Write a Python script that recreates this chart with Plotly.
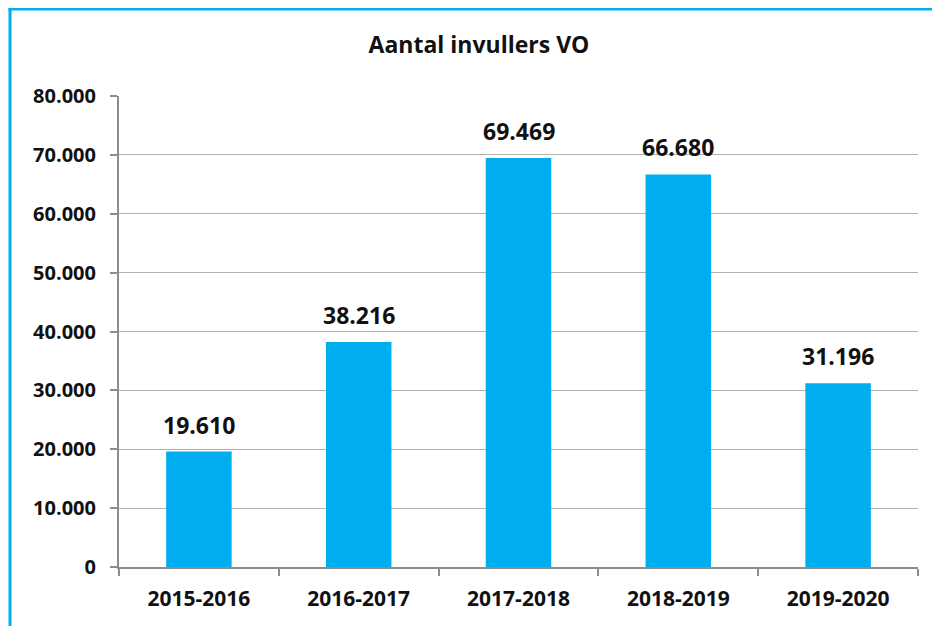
import plotly.graph_objects as go

categories = ["2015-2016", "2016-2017", "2017-2018", "2018-2019", "2019-2020"]
values = [19610, 38216, 69469, 66680, 31196]
label_texts = ["19.610", "38.216", "69.469", "66.680", "31.196"]
y_ticks = [0, 10000, 20000, 30000, 40000, 50000, 60000, 70000, 80000]
y_tick_labels = ["0", "10.000", "20.000", "30.000", "40.000", "50.000", "60.000", "70.000", "80.000"]

FONT = "'Open Sans', Lato, sans-serif"
BLUE = "#00AEEF"
# the page body has an 8px margin, so the figure is drawn 8px in from the window edge
W, H = 932, 618
L, R, T, B = 111, 22, 88, 59
pw, ph = W - L - R, H - T - B

fig = go.Figure()
fig.add_trace(go.Bar(x=categories, y=values, marker=dict(color=BLUE, line=dict(width=0)),
                     hoverinfo="x+y"))

for c, v, t in zip(categories, values, label_texts):
    fig.add_annotation(x=c, y=v, text="<b>" + t + "</b>", showarrow=False,
                       yanchor="bottom", yshift=9,
                       font=dict(family=FONT, size=23, color="#111111"))

def px_x(p):
    return (p - L) / pw

def px_y(p):
    return (H - B - p) / ph

fig.add_shape(type="line", xref="paper", yref="paper", x0=px_x(0.5), x1=px_x(940),
              y0=px_y(1), y1=px_y(1), line=dict(color=BLUE, width=3))
fig.add_shape(type="line", xref="paper", yref="paper", x0=px_x(2), x1=px_x(2),
              y0=px_y(-0.5), y1=px_y(630), line=dict(color=BLUE, width=3))

fig.update_layout(
    width=W, height=H,
    margin=dict(l=L, r=R, t=T, b=B),
    paper_bgcolor="white", plot_bgcolor="white",
    bargap=0.59,
    showlegend=False,
    title=dict(text="<b>Aantal invullers VO</b>", x=(479 - 8) / W, xanchor="center",
               y=1 - 37 / H, yanchor="middle",
               font=dict(family=FONT, size=23, color="#111111")),
    font=dict(family=FONT, color="#111111"),
    xaxis=dict(showline=True, linecolor="#8c8c8c", linewidth=2,
               ticks="outside", tickson="boundaries", ticklen=7, tickcolor="#8c8c8c", tickwidth=2,
               tickfont=dict(family=FONT, size=21, color="#111111"),
               ticklabelstandoff=12,
               tickprefix="<b>", ticksuffix="</b>", showgrid=False),
    yaxis=dict(range=[0, 80000], tickvals=y_ticks, ticktext=["<b>" + t + "</b>" for t in y_tick_labels],
               showline=True, linecolor="#8c8c8c", linewidth=2,
               ticks="outside", ticklen=7, tickcolor="#8c8c8c", tickwidth=2,
               showgrid=True, gridcolor="#b0b0b0", gridwidth=1,
               tickfont=dict(family=FONT, size=20, color="#111111"),
               ticklabelstandoff=10, zeroline=False),
)

fig.write_html("out.html")
